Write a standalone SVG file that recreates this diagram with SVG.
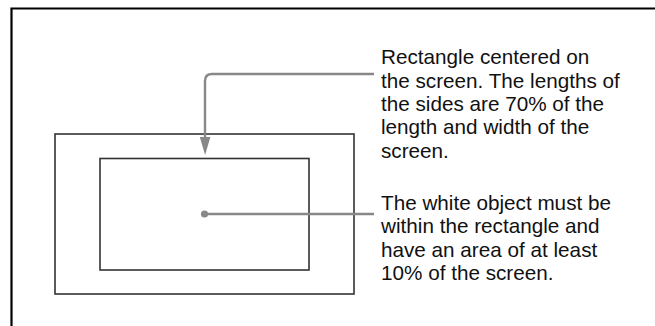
<svg xmlns="http://www.w3.org/2000/svg" width="655" height="326" viewBox="0 0 655 326">
<defs>
<style>
.frame{fill:none;stroke:#000;stroke-width:2.2}
.box{fill:none;stroke:#333;stroke-width:1.6}
.conn{fill:none;stroke:#888;stroke-width:2.4}
.lbl{font-family:"Liberation Sans",Arial,sans-serif;font-size:20.7px;fill:#111}
</style>
</defs>
<rect width="655" height="326" fill="#fff"/>
<path class="frame" d="M11.5,326 V8.5 H655"/>
<g id="screen"><rect class="box" x="55" y="134" width="299" height="160"/></g>
<g id="area"><rect class="box" x="100" y="158.5" width="209" height="111.5"/></g>
<g id="connectors">
<path class="conn" d="M374,74 H212 Q205,74 205,81 V138"/>
<path d="M199.8,137 L210.4,137 L205.1,155 Z" fill="#888"/>
<line class="conn" x1="204.5" y1="214" x2="374" y2="214"/>
<circle cx="204.5" cy="214" r="3.6" fill="#888"/>
</g>
<g id="label1">
<text class="lbl" x="381" y="64.4">Rectangle centered on</text>
<text class="lbl" x="381" y="87.7">the screen. The lengths of</text>
<text class="lbl" x="381" y="111">the sides are 70% of the</text>
<text class="lbl" x="381" y="134.3">length and width of the</text>
<text class="lbl" x="381" y="157.6">screen.</text>
</g>
<g id="label2">
<text class="lbl" x="381" y="210">The white object must be</text>
<text class="lbl" x="381" y="233.3">within the rectangle and</text>
<text class="lbl" x="381" y="256.6">have an area of at least</text>
<text class="lbl" x="381" y="279.9">10% of the screen.</text>
</g>
</svg>
